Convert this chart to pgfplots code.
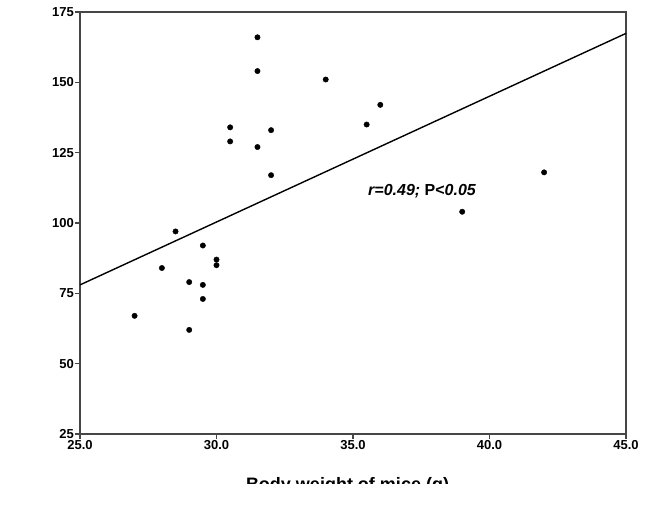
\documentclass[border=0pt]{standalone}
\usepackage{fontspec}
\setmainfont{Liberation Sans}
\usepackage{pgfplots}
\pgfplotsset{compat=1.18}
\usetikzlibrary{calc}

\definecolor{axisgray}{RGB}{70,70,70}

\pgfplotstableread{
x y
27.0 67
28.0 84
28.5 97
29.0 79
29.0 62
29.5 92
29.5 78
29.5 73
30.0 87
30.0 85
30.5 134
30.5 129
31.5 166
31.5 154
31.5 127
32.0 133
32.0 117
34.0 151
35.5 135
36.0 142
39.0 104
42.0 118
}\micedata

\begin{document}
\begin{tikzpicture}
\begin{axis}[
    scale only axis,
    width=546bp, height=422bp,
    xmin=25, xmax=45,
    ymin=25, ymax=175,
    xtick={25,30,35,40,45},
    ytick={25,50,75,100,125,150,175},
    xtick pos=bottom, ytick pos=left,
    tick align=outside,
    major tick length=5bp,
    axis line style={axisgray, line width=1.6bp},
    every tick/.style={axisgray, line width=1.6bp},
    ticklabel style={font=\fontsize{13bp}{15bp}\selectfont\bfseries},
    xticklabel style={inner sep=1bp},
    yticklabel style={inner sep=1bp},
    /pgf/number format/assume math mode=true,
    xticklabel={\pgfmathprintnumber[fixed, fixed zerofill, precision=1]{\tick}},
    clip=false,
]
\coordinate (sw) at (rel axis cs:0,0);

% fitted regression line
\addplot[black, line width=1.4bp] coordinates {(25,78) (45,167.4)};

\addplot[only marks, mark=*, mark size=2.7bp, black] table {\micedata};

\node[anchor=base west, inner sep=0pt, font=\fontsize{16bp}{18bp}\selectfont\bfseries]
    at (axis cs:35.55,109.6) {\itshape r=0.49; \upshape P<\itshape 0.05};
\end{axis}

% x-axis label, cut off at the bottom as in the reference
\begin{scope}
\clip ($(sw)+(-80bp,-49.7bp)$) rectangle ($(sw)+(566bp,0bp)$);
\node[anchor=north, inner sep=0pt, font=\fontsize{18bp}{20bp}\selectfont\bfseries]
    at ($(sw)+(267.5bp,-43.7bp)$) {Body weight of mice (g)};
\end{scope}

\pgfresetboundingbox
\path ($(sw)+(-80bp,-71bp)$) rectangle ($(sw)+(566bp,434bp)$);
\end{tikzpicture}
\end{document}
